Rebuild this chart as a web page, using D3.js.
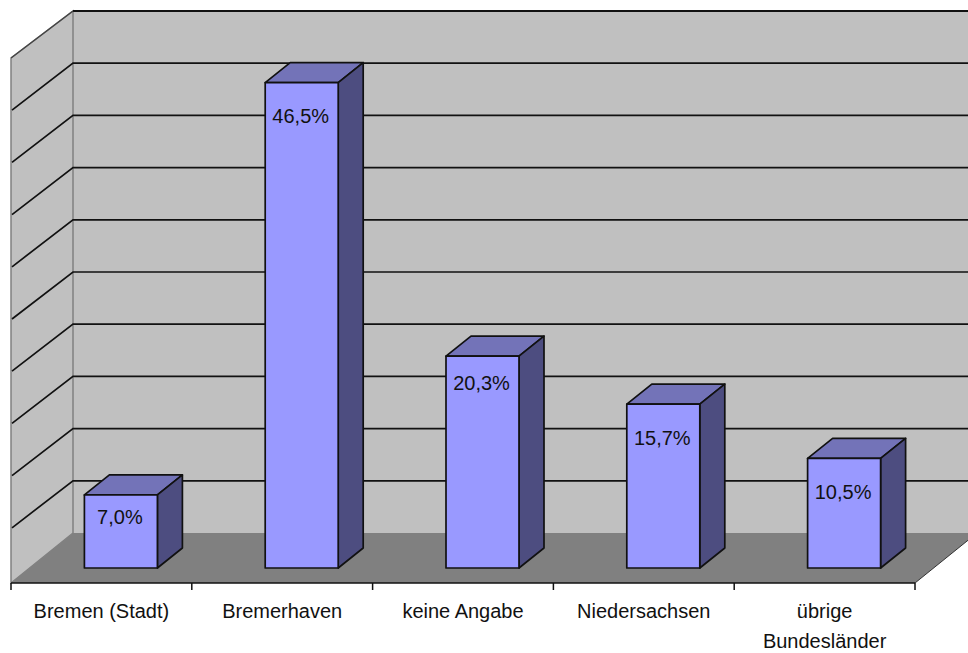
<!DOCTYPE html>
<html>
<head>
<meta charset="utf-8">
<style>
	body { margin: 0; background: #fff; }
	svg { display: block; }
	text { font-family: "Liberation Sans", Arial, sans-serif; fill: #111; }
</style>
<script src="https://d3js.org/d3.v7.min.js"></script>
</head>
<body>
<div id="chart"></div>
<script>
let categories = ["Bremen (Stadt)", "Bremerhaven", "keine Angabe", "Niedersachsen", "übrige Bundesländer"];
let shares = [7.0, 46.5, 20.3, 15.7, 10.5];
let shareLabels = ["7,0%", "46,5%", "20,3%", "15,7%", "10,5%"];
let gridValues = [5, 10, 15, 20, 25, 30, 35, 40, 45];

let width = 968;
let height = 653;

// front plane of the 3D box
let plotLeft = 11;
let plotRight = 915;
let plotBottom = 583;
let depthX = 62;
let depthY = 50;

// wall lines meet the front edge a little higher than the floor does
let wallLift = 3;

// bars sit in the middle of the floor
let barDepthX = 25;
let barDepthY = 20;
let barShiftX = (depthX - barDepthX) / 2 + 1;
let barShiftY = (depthY - barDepthY) / 2;

// how far each value label hangs below the bar top
let labelDrop = [22, 33, 27, 34, 34];

let x = d3.scaleBand()
	.domain(categories)
	.range([plotLeft, plotRight])
	.paddingInner(0);

let y = d3.scaleLinear()
	.domain([0, 50])
	.range([plotBottom, plotBottom - 522]);

let barWidth = 73;

let svg = d3.select('#chart')
	.append('svg')
	.attr('width', width)
	.attr('height', height);

let poly = pts => pts.map(p => p.join(',')).join(' ');

// Back wall
svg.append('polygon')
	.attr('points', poly([
		[plotLeft + depthX, y(50) - depthY],
		[plotRight + depthX, y(50) - depthY],
		[plotRight + depthX, y(0) - depthY],
		[plotLeft + depthX, y(0) - depthY]
	]))
	.attr('fill', '#c0c0c0');

// Left wall
svg.append('polygon')
	.attr('points', poly([
		[plotLeft, y(50) - wallLift],
		[plotLeft + depthX, y(50) - depthY],
		[plotLeft + depthX, y(0) - depthY],
		[plotLeft, y(0)]
	]))
	.attr('fill', '#c0c0c0')
	.attr('stroke', '#808080')
	.attr('stroke-width', 1.5);

// Floor
svg.append('polygon')
	.attr('points', poly([
		[plotLeft, y(0)],
		[plotRight, y(0)],
		[plotRight + depthX, y(0) - depthY],
		[plotLeft + depthX, y(0) - depthY]
	]))
	.attr('fill', '#808080');

// Gridlines, back wall and left wall
svg.selectAll('.grid')
	.data(gridValues)
	.enter()
	.append('polyline')
	.attr('class', 'grid')
	.attr('points', d => poly([
		[plotLeft + 1, y(d) - wallLift],
		[plotLeft + depthX, y(d) - depthY],
		[plotRight + depthX, y(d) - depthY]
	]))
	.attr('fill', 'none')
	.attr('stroke', '#111')
	.attr('stroke-width', 1.7);

// Top edge of the box
svg.append('line')
	.attr('x1', plotLeft + depthX)
	.attr('x2', plotRight + depthX)
	.attr('y1', y(50) - depthY)
	.attr('y2', y(50) - depthY)
	.attr('stroke', '#111')
	.attr('stroke-width', 2);

svg.append('line')
	.attr('x1', plotLeft)
	.attr('y1', y(50) - wallLift)
	.attr('x2', plotLeft + depthX)
	.attr('y2', y(50) - depthY)
	.attr('stroke', '#444')
	.attr('stroke-width', 1.5);

// Right edge of the floor
svg.append('line')
	.attr('x1', plotRight)
	.attr('y1', y(0))
	.attr('x2', plotRight + depthX)
	.attr('y2', y(0) - depthY)
	.attr('stroke', '#333')
	.attr('stroke-width', 1);

// Bars
let bars = svg.selectAll('.bar')
	.data(categories.map((c, i) => ({
		name: c,
		value: shares[i],
		label: shareLabels[i],
		drop: labelDrop[i],
		x0: x(c) + (x.bandwidth() - barWidth) / 2 + barShiftX,
		x1: x(c) + (x.bandwidth() + barWidth) / 2 + barShiftX,
		top: y(shares[i]) - barShiftY,
		base: y(0) - barShiftY
	})))
	.enter()
	.append('g')
	.attr('class', 'bar')
	.attr('stroke', '#111')
	.attr('stroke-width', 1.7)
	.attr('stroke-linejoin', 'round');

bars.append('polygon')
	.attr('fill', '#7373b8')
	.attr('points', d => poly([
		[d.x0, d.top],
		[d.x0 + barDepthX, d.top - barDepthY],
		[d.x1 + barDepthX, d.top - barDepthY],
		[d.x1, d.top]
	]));

bars.append('polygon')
	.attr('fill', '#4d4d80')
	.attr('points', d => poly([
		[d.x1, d.top],
		[d.x1 + barDepthX, d.top - barDepthY],
		[d.x1 + barDepthX, d.base - barDepthY],
		[d.x1, d.base]
	]));

bars.append('rect')
	.attr('fill', '#9999ff')
	.attr('x', d => d.x0)
	.attr('y', d => d.top)
	.attr('width', d => d.x1 - d.x0)
	.attr('height', d => d.base - d.top);

// Value labels
bars.append('text')
	.text(d => d.label)
	.attr('x', d => (d.x0 + d.x1) / 2 - 1)
	.attr('y', d => d.top + d.drop)
	.attr('dy', '0.35em')
	.attr('stroke', 'none')
	.style('text-anchor', 'middle')
	.style('font-size', '20px');

// Category axis with ticks on the band edges
let axis = svg.append('g').attr('stroke', '#111');

axis.append('line')
	.attr('x1', plotLeft)
	.attr('x2', plotRight)
	.attr('y1', y(0))
	.attr('y2', y(0))
	.attr('stroke-width', 1.7);

axis.selectAll('.tick')
	.data(d3.range(categories.length + 1))
	.enter()
	.append('line')
	.attr('class', 'tick')
	.attr('x1', i => plotLeft + i * x.step())
	.attr('x2', i => plotLeft + i * x.step())
	.attr('y1', y(0))
	.attr('y2', y(0) + 7)
	.attr('stroke-width', 1.5);

// Category labels, the last one wraps
let labels = svg.selectAll('.cat')
	.data(categories)
	.enter()
	.append('text')
	.attr('class', 'cat')
	.attr('y', 618)
	.style('text-anchor', 'middle')
	.style('font-size', '20px');

labels.each(function (d) {
	let words = d === "übrige Bundesländer" ? d.split(' ') : [d];
	d3.select(this).selectAll('tspan')
		.data(words)
		.enter()
		.append('tspan')
		.attr('x', x(d) + x.bandwidth() / 2)
		.attr('dy', (w, i) => i === 0 ? 0 : 30)
		.text(w => w);
});
</script>
</body>
</html>
